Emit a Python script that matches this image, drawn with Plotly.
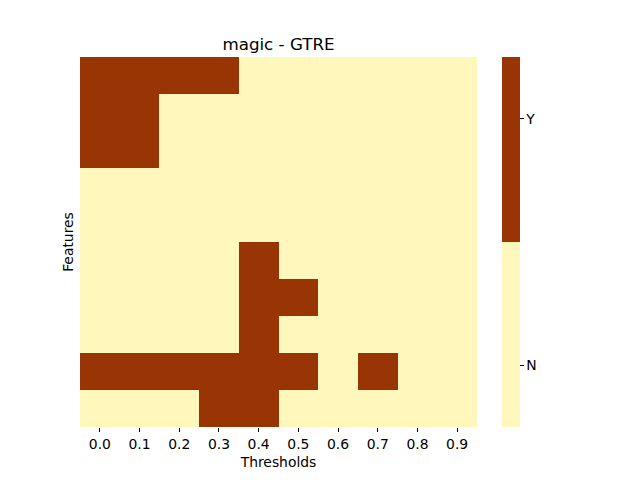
import plotly.graph_objects as go

# thresholds on x, features on y (top to bottom), 1 = Y, 0 = N
thresholds = ["0.0", "0.1", "0.2", "0.3", "0.4", "0.5", "0.6", "0.7", "0.8", "0.9"]
features = list(range(10))
selected = [
    [1, 1, 1, 1, 0, 0, 0, 0, 0, 0],
    [1, 1, 0, 0, 0, 0, 0, 0, 0, 0],
    [1, 1, 0, 0, 0, 0, 0, 0, 0, 0],
    [0, 0, 0, 0, 0, 0, 0, 0, 0, 0],
    [0, 0, 0, 0, 0, 0, 0, 0, 0, 0],
    [0, 0, 0, 0, 1, 0, 0, 0, 0, 0],
    [0, 0, 0, 0, 1, 1, 0, 0, 0, 0],
    [0, 0, 0, 0, 1, 0, 0, 0, 0, 0],
    [1, 1, 1, 1, 1, 1, 0, 1, 0, 0],
    [0, 0, 0, 1, 1, 0, 0, 0, 0, 0],
]
tick_names = ["N", "Y"]

light = "#fff7bc"
dark = "#993404"
font = "DejaVu Sans"
fs = 13.9

# the page body adds an 8px offset, so margins are shifted to compensate
fig = go.Figure(go.Heatmap(
    z=selected, x=thresholds, y=features,
    zmin=0, zmax=1,
    colorscale=[[0, light], [0.5, light], [0.5, dark], [1, dark]],
    colorbar=dict(
        tickvals=[1 / 6, 5 / 6], ticktext=tick_names,
        ticks="outside", ticklen=4, tickcolor="black",
        thickness=18, len=1, lenmode="fraction",
        x=(502 - 80) / 397, xref="paper", xanchor="left", xpad=0, ypad=0,
        y=0.5, yanchor="middle", outlinewidth=0,
        tickfont=dict(family=font, size=fs, color="black"),
    ),
    xgap=0, ygap=0,
))

fig.update_layout(
    width=640, height=480,
    margin=dict(l=72, r=171, t=49, b=61),
    paper_bgcolor="white", plot_bgcolor="white",
    font=dict(family=font, size=fs, color="black"),
    title=dict(text="magic - GTRE", x=(80 + 477) / 2 / 640 - 8 / 640, xanchor="center",
               xref="container", y=1 - 36 / 480, yref="container", yanchor="middle",
               font=dict(family=font, size=16.7, color="black")),
)
fig.update_xaxes(title=dict(text="Thresholds", standoff=6, font=dict(family=font, size=fs)),
                 tickfont=dict(family=font, size=fs), ticks="outside", ticklen=4,
                 tickcolor="black", showgrid=False, zeroline=False, showline=False)
fig.update_yaxes(title=dict(text="Features", standoff=2, font=dict(family=font, size=fs)),
                 autorange="reversed",
                 showticklabels=False, ticks="", showgrid=False, zeroline=False)

fig.write_html("out.html")
